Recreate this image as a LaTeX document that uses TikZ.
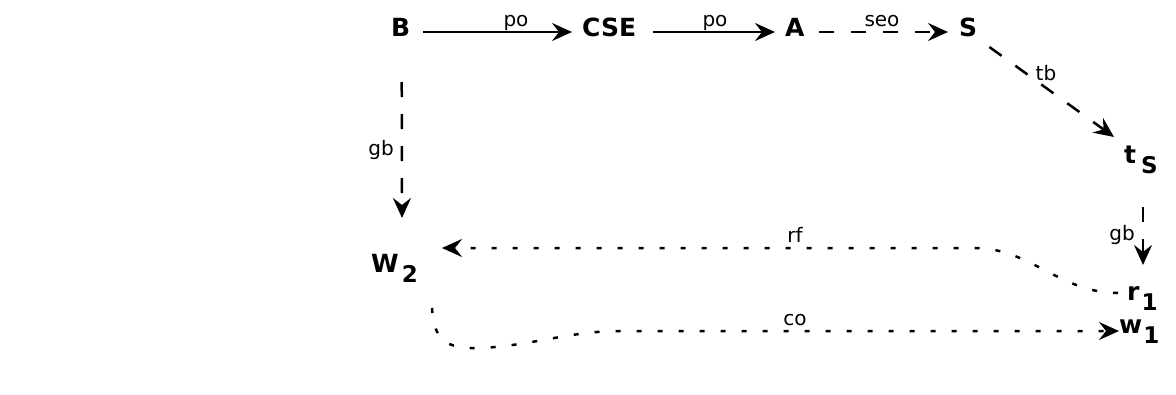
\documentclass[tikz,border=0pt]{standalone}
\usepackage{fontspec}
\setmainfont{DejaVu Sans}
\usetikzlibrary{arrows.meta,calc}
\newcommand{\nodefont}{\fontsize{25}{30}\selectfont\bfseries}
\newcommand{\edgefont}{\fontsize{20}{24}\selectfont}
\newcommand{\subsc}[2]{\hspace{#1}\raisebox{-10pt}{\fontsize{23}{28}\selectfont\bfseries #2}}
\begin{document}
\begin{tikzpicture}[x=1pt,y=-1pt,
  vtx/.style={inner sep=0pt, anchor=base west, font=\nodefont},
  elab/.style={inner sep=0pt, anchor=base, font=\edgefont},
  edgeline/.style={line width=2.5pt, -{Stealth[length=20pt,width=18pt,inset=7pt]}},
  dashedge/.style={edgeline, dash pattern=on 15pt off 17pt},
  dotedge/.style={edgeline, dash pattern=on 5pt off 16pt}]
\useasboundingbox[fill=white] (0,0) rectangle (1176,394);

% vertices
\node[vtx] (B)   at (391,36)   {B};
\node[vtx] (CSE) at (582,36)   {CSE};
\node[vtx] (A)   at (785,36)   {A};
\node[vtx] (S)   at (959,36)   {S};
\node[vtx] (tS)  at (1124,163) {t\subsc{5pt}{S}};
\node[vtx] (W2)  at (371,272)  {W\subsc{3pt}{2}};
\node[vtx] (r1)  at (1127,300) {r\subsc{2pt}{1}};
\node[vtx] (w1)  at (1119,333) {w\subsc{1pt}{1}};

% edges
\draw[edgeline] ($(B.base east)+(13,-4)$) -- ($(CSE.base west)+(-10,-4)$);
\draw[edgeline] ($(CSE.base east)+(17,-4)$) -- ($(A.base west)+(-10,-4)$);
\draw[dashedge] ($(A.base east)+(14,-4)$) -- ($(S.base west)+(-11,-4)$);
\draw[dashedge] ($(S.base east)+(12,11)$) -- ($(tS.base west)+(-10,-26)$);
\draw[dashedge] ($(B.base)+(1,46)$) -- ($(W2.base west)+(31,-54)$);
\draw[dashedge] ($(tS.base west)+(19,44)$) -- ($(r1.base west)+(16,-35)$);
\draw[dotedge] ($(r1.base west)+(-9,-7)$) .. controls (1060,293) and (1030,248) .. (975,248) -- ($(W2.base west)+(71,-24)$);
\draw[dotedge] ($(W2.base west)+(61,36)$) .. controls (434,340) and (445,349) .. (480,348) .. controls (530,346) and (570,331) .. (620,331) -- ($(w1.base west)+(0,-2)$);

% edge labels
\node[elab] (l1) at (516,26)  {po};
\node[elab] (l2) at (715,26)  {po};
\node[elab] (l3) at (882,26)  {seo};
\node[elab] (l4) at (1046,80) {tb};
\node[elab] (l5) at (381,155) {gb};
\node[elab] (l6) at (1122,240) {gb};
\node[elab] (l7) at (795,242) {rf};
\node[elab] (l8) at (795,325) {co};
\end{tikzpicture}
\end{document}
